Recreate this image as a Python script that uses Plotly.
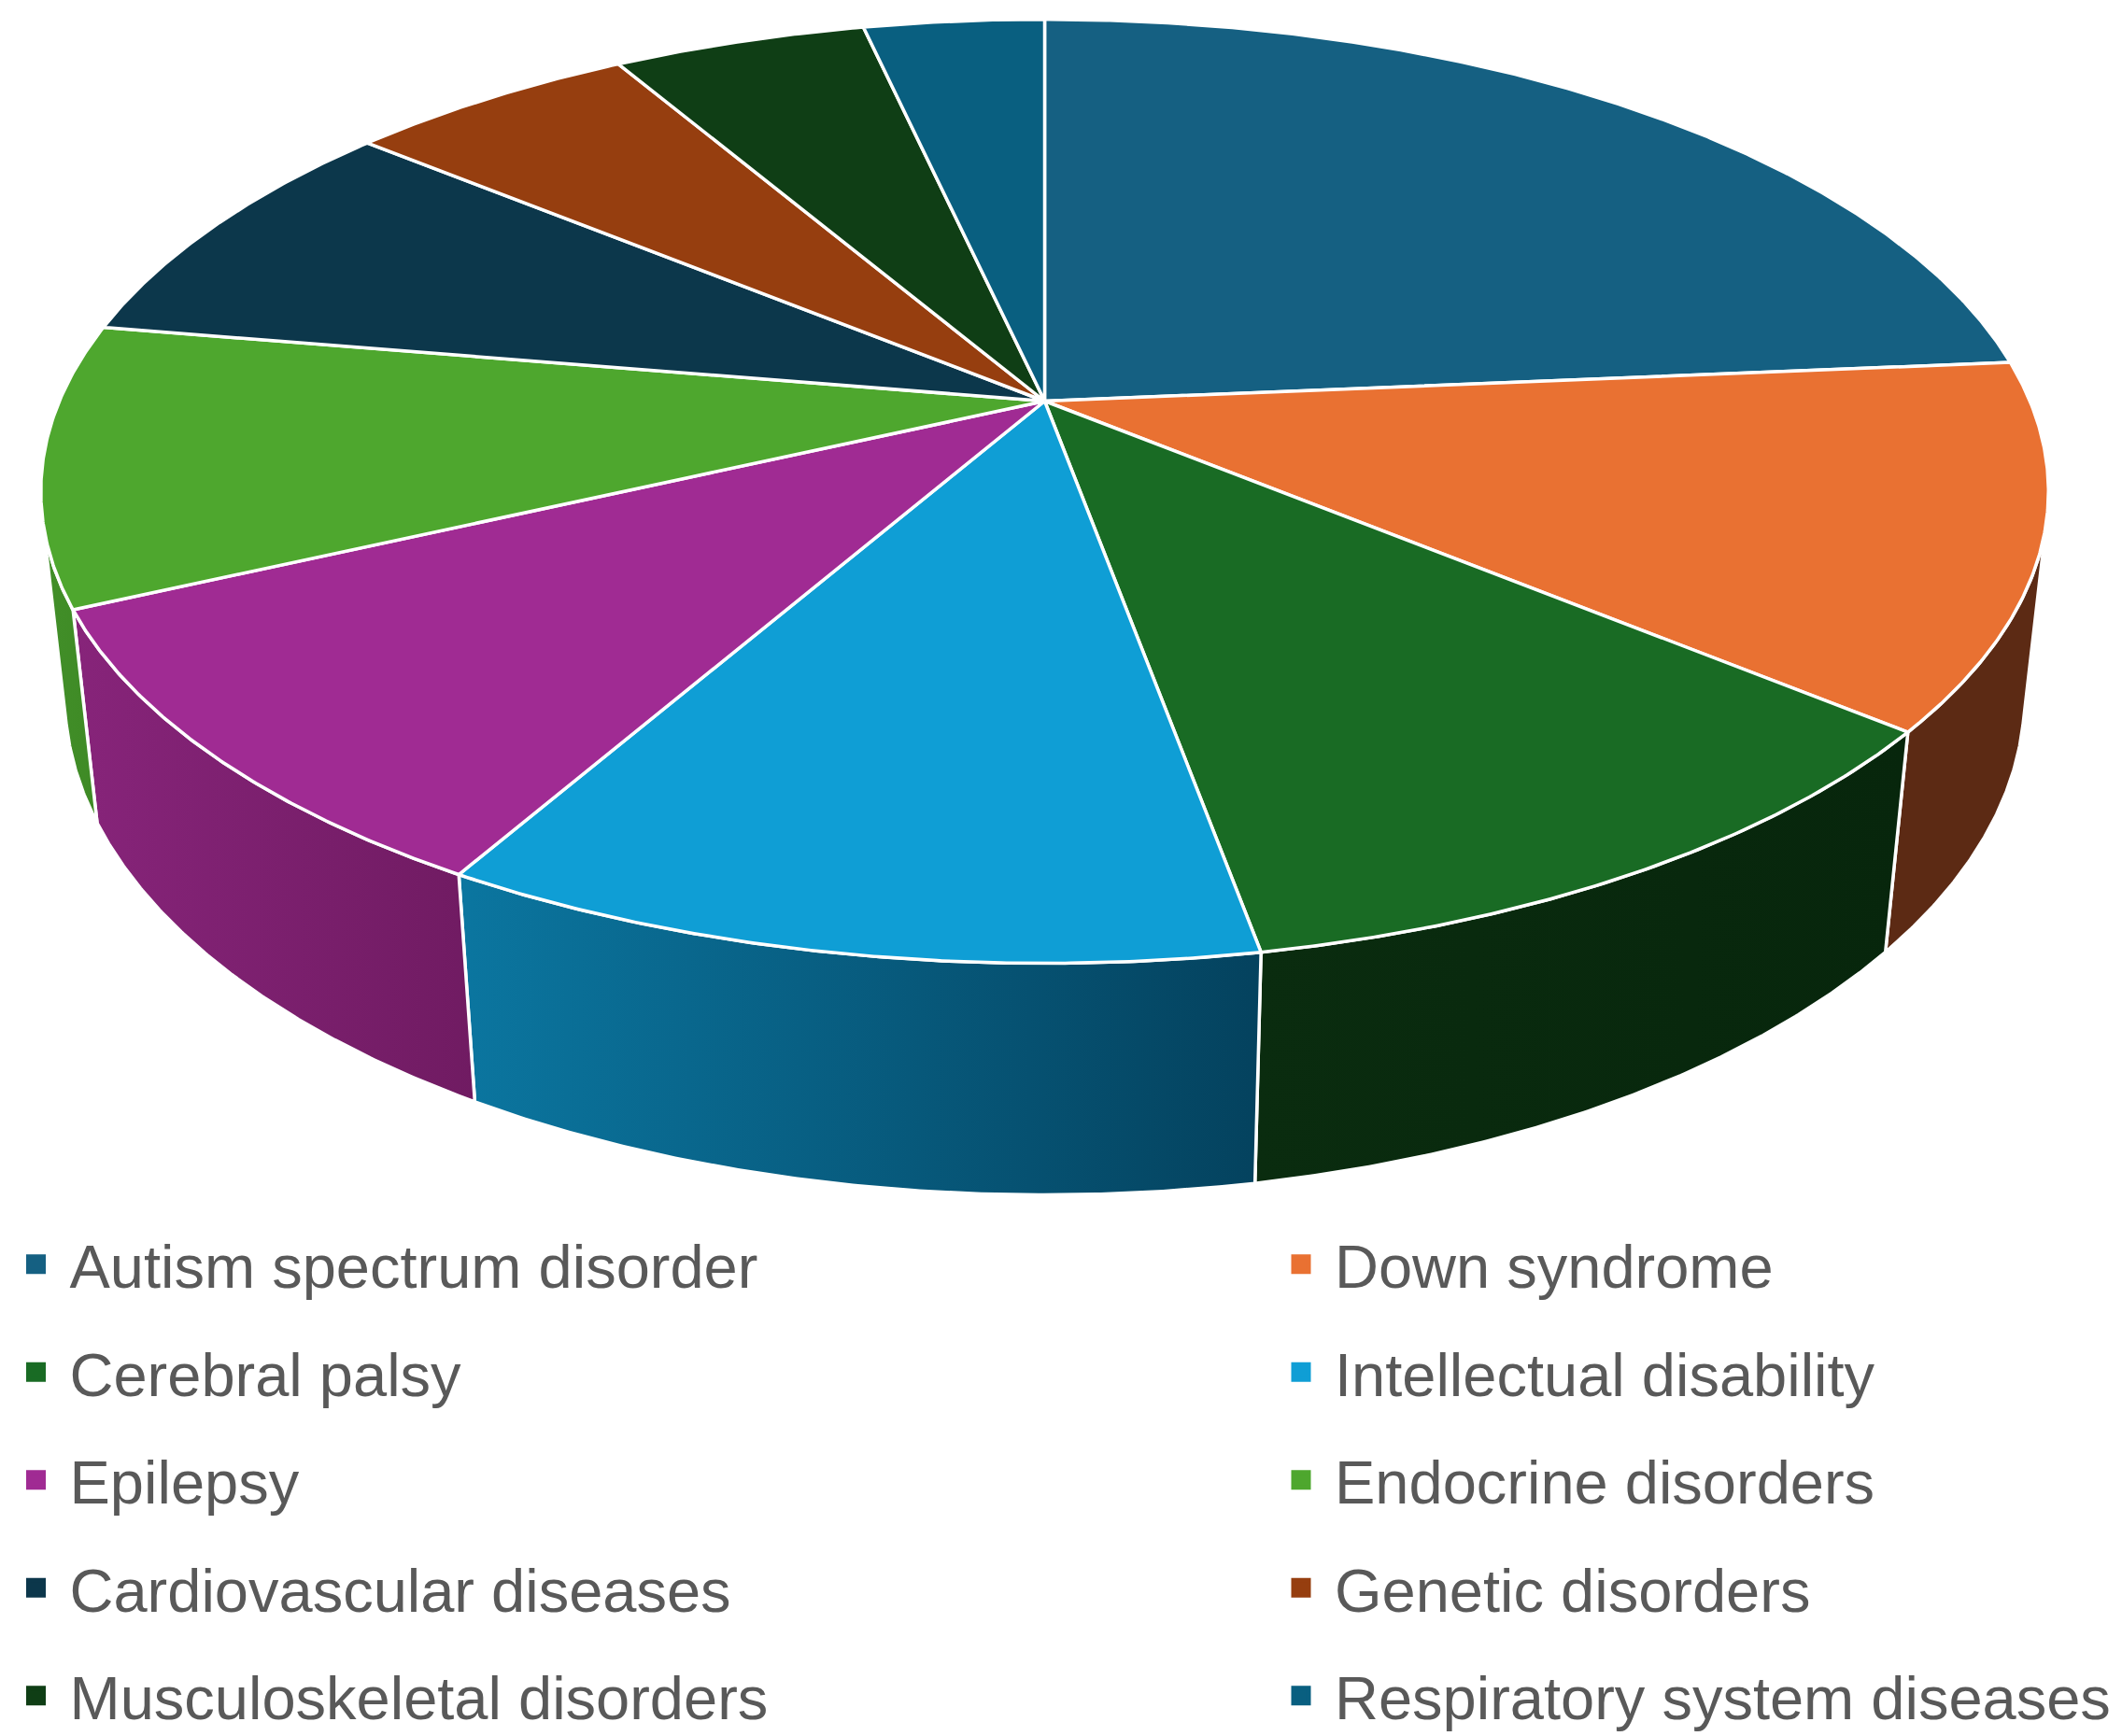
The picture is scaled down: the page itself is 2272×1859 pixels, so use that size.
import numpy as np
import plotly.graph_objects as go

# share of patients per condition (%)
categories = [
    "Autism spectrum disorder", "Down syndrome",
    "Cerebral palsy", "Intellectual disability",
    "Epilepsy", "Endocrine disorders",
    "Cardiovascular diseases", "Genetic disorders",
    "Musculoskeletal disorders", "Respiratory system diseases",
]
values = [23.6, 12.4, 11.1, 11.1, 9.8, 9.6, 8.3, 5.6, 4.9, 3.5]

top_colors = ["#156082", "#E97132", "#196B24", "#0F9ED5", "#A02B93",
              "#4EA72E", "#0C374B", "#963E0F", "#0F3E15", "#095F80"]
# (left, right) shade of the outer wall of each slice
side_colors = [("#0A3042", "#0A3042"), ("#5C2A14", "#5C2A14"),
               ("#0A2C0F", "#07260C"), ("#0B76A0", "#04425E"),
               ("#87247A", "#701B62"), ("#428F29", "#3E8A25"),
               ("#061C26", "#061C26"), ("#4A1F08", "#4A1F08"),
               ("#08200B", "#08200B"), ("#053040", "#053040")]

# camera for the tilted disc (perspective projection, pixel space)
W, H = 2272, 1859
cx, cy = 1118.5, 429.5
focal = 4896.0
dist = 4.641
tilt = np.radians(27.49)
thick = 0.2357
ct, st = np.cos(tilt), np.sin(tilt)


def project(theta_deg, w):
    t = np.radians(theta_deg)
    u, v = np.sin(t), np.cos(t)
    yc = v * st + w * ct
    z = dist + v * ct - w * st
    return cx + focal * u / z, cy - focal * yc / z


# part of the wall that faces the camera
vis_lo = np.degrees(np.arccos(-1.0 / (dist * ct)))
vis_hi = 360.0 - vis_lo

bounds = np.concatenate([[0.0], np.cumsum(values) / np.sum(values) * 360.0])

fig = go.Figure()

# outer walls first
for i in range(len(values)):
    a0, a1 = max(bounds[i], vis_lo), min(bounds[i + 1], vis_hi)
    if a1 <= a0:
        continue
    th = np.linspace(a0, a1, max(3, int((a1 - a0) * 4)))
    xt, yt = project(th, 0.0)
    xb, yb = project(th[::-1], -thick)
    xs = np.concatenate([xt, xb, xt[:1]])
    ys = np.concatenate([yt, yb, yt[:1]])
    left, right = side_colors[i]
    fig.add_trace(go.Scatter(
        x=xs, y=ys, mode="lines", fill="toself",
        fillcolor=left,
        fillgradient=dict(type="horizontal",
                          colorscale=[[0, left], [1, right]]),
        line=dict(color="white", width=3.5),
        hoverinfo="skip", showlegend=False,
    ))

# top faces
for i in range(len(values)):
    th = np.linspace(bounds[i], bounds[i + 1],
                     max(3, int((bounds[i + 1] - bounds[i]) * 4)))
    xa, ya = project(th, 0.0)
    xs = np.concatenate([[cx], xa, [cx]])
    ys = np.concatenate([[cy], ya, [cy]])
    fig.add_trace(go.Scatter(
        x=xs, y=ys, mode="lines", fill="toself",
        fillcolor=top_colors[i],
        line=dict(color="white", width=3.5),
        name=categories[i],
        text=f"{categories[i]}: {values[i]}%", hoverinfo="text",
        showlegend=False,
    ))

# legend entries, two columns
for i, name in enumerate(categories):
    fig.add_trace(go.Scatter(
        x=[None], y=[None], mode="markers", name=name,
        marker=dict(symbol="square", size=16, color=top_colors[i],
                    line=dict(color=top_colors[i], width=5)),
        legend="legend" if i % 2 == 0 else "legend2",
        legendgroup=name,
    ))

legend_style = dict(
    orientation="v", yanchor="top", xanchor="left",
    font=dict(family="Liberation Sans, Arial, sans-serif", size=65,
              color="#595959"),
    bgcolor="rgba(0,0,0,0)", tracegroupgap=28, itemclick=False,
    itemwidth=62,
)

fig.update_layout(
    width=W, height=H,
    margin=dict(l=0, r=0, t=0, b=0, autoexpand=False),
    paper_bgcolor="white", plot_bgcolor="white",
    xaxis=dict(range=[0, W], visible=False),
    yaxis=dict(range=[H, 0], visible=False),
    showlegend=True,
    legend=dict(x=2.5 / W, y=1 - 1305 / H, **legend_style),
    legend2=dict(x=1357 / W, y=1 - 1305 / H, **legend_style),
)

fig.write_html("out.html", config={"displayModeBar": False},
               post_script="document.body.style.margin='0px';")
